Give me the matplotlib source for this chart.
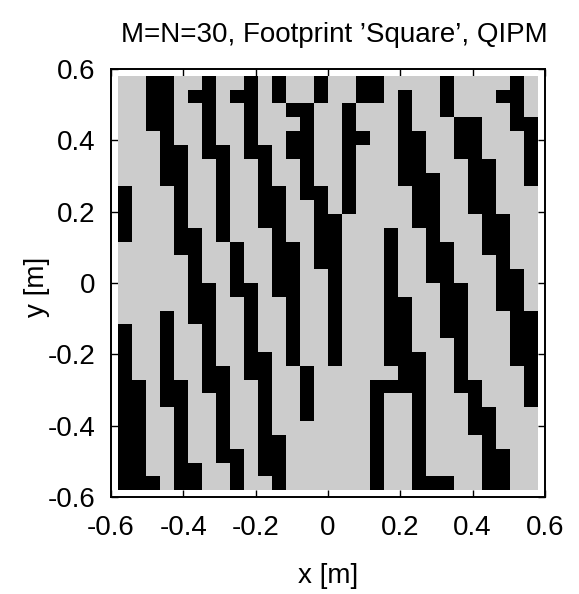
import numpy as np
import matplotlib
matplotlib.use("Agg")
import matplotlib.pyplot as plt
from matplotlib.colors import ListedColormap

plt.rcParams['font.family'] = ['Liberation Sans', 'DejaVu Sans']

# Grid size and extent
M = 30
N = 30
half_width = 0.58

# Black (active) cell columns for each row, row 0 = top (largest y)
black_cols_by_row = [
    [2, 3, 6, 9, 11, 14, 17, 18, 23, 28],
    [2, 3, 5, 6, 8, 9, 11, 14, 17, 18, 20, 23, 27, 28],
    [2, 3, 6, 9, 12, 13, 16, 20, 23, 28],
    [2, 3, 6, 9, 13, 16, 20, 24, 25, 28, 29],
    [3, 6, 9, 12, 13, 16, 17, 20, 21, 24, 25, 29],
    [3, 4, 6, 7, 9, 10, 12, 13, 16, 20, 21, 24, 25, 29],
    [3, 4, 7, 10, 13, 16, 20, 21, 25, 26, 29],
    [3, 4, 7, 10, 13, 16, 20, 21, 22, 25, 26, 29],
    [0, 4, 7, 10, 11, 13, 14, 16, 21, 22, 25, 26],
    [0, 4, 7, 10, 11, 14, 16, 21, 22, 25, 26],
    [0, 4, 7, 10, 11, 14, 15, 21, 22, 26, 27],
    [0, 4, 5, 7, 11, 14, 15, 19, 22, 26, 27],
    [4, 5, 8, 11, 12, 14, 15, 19, 22, 23, 26, 27],
    [5, 8, 11, 12, 14, 15, 19, 22, 23, 27],
    [5, 8, 11, 12, 15, 19, 22, 23, 27, 28],
    [5, 6, 8, 9, 11, 12, 15, 19, 23, 24, 27, 28],
    [5, 6, 9, 12, 15, 19, 20, 23, 24, 27, 28],
    [3, 5, 6, 9, 12, 15, 19, 20, 23, 24, 28, 29],
    [0, 3, 6, 9, 12, 15, 19, 20, 23, 24, 28, 29],
    [0, 3, 6, 9, 12, 15, 19, 20, 24, 28, 29],
    [0, 3, 6, 9, 10, 12, 15, 19, 20, 21, 24, 28, 29],
    [0, 3, 6, 7, 9, 10, 13, 20, 21, 24, 29],
    [0, 1, 3, 4, 6, 7, 10, 13, 18, 19, 20, 21, 24, 25, 29],
    [0, 1, 3, 4, 7, 10, 13, 18, 21, 25, 29],
    [0, 1, 4, 7, 10, 13, 18, 21, 25, 26],
    [0, 1, 4, 7, 10, 18, 21, 25, 26],
    [0, 1, 4, 7, 10, 11, 18, 21, 26],
    [0, 1, 4, 7, 8, 10, 11, 18, 21, 26, 27],
    [0, 1, 4, 5, 8, 10, 11, 18, 21, 26, 27],
    [0, 1, 2, 4, 5, 8, 11, 18, 21, 22, 23, 26, 27],
]

tick_values = [-0.6, -0.4, -0.2, 0, 0.2, 0.4, 0.6]
tick_labels = ['-0.6', '-0.4', '-0.2', '0', '0.2', '0.4', '0.6']

title_text = "M=N=30, Footprint \u2019Square\u2019, QIPM"
xlabel_text = "x [m]"
ylabel_text = "y [m]"

# Build matrix (row 0 of Z = bottom)
Z = np.zeros((N, M))
for r, cols in enumerate(black_cols_by_row):
    for c in cols:
        Z[N - 1 - r, c] = 1

x_edges = np.linspace(-half_width, half_width, M + 1)
y_edges = np.linspace(-half_width, half_width, N + 1)

W, H = 579, 594
fig = plt.figure(figsize=(W / 100, H / 100), dpi=100)
ax = fig.add_axes([111 / W, 1 - 497.3 / H, 434 / W, 428.6 / H])

cmap = ListedColormap(['#cccccc', '#000000'])
ax.pcolormesh(x_edges, y_edges, Z, cmap=cmap, vmin=0, vmax=1, zorder=3)

ax.set_xlim(-0.6, 0.6)
ax.set_ylim(-0.6, 0.6)
ax.set_xticks(tick_values)
ax.set_xticklabels(tick_labels)
ax.set_yticks(tick_values)
ax.set_yticklabels(tick_labels)
ax.tick_params(direction='in', top=True, right=True, length=5, width=1.0,
               labelsize=20, colors='black')
ax.tick_params(axis='x', pad=13)
ax.tick_params(axis='y', pad=11)
for s in ax.spines.values():
    s.set_linewidth(1.4)
    s.set_zorder(5)

fig.text(334 / W, 1 - 35 / H, title_text, ha='center', va='center', fontsize=20)
fig.text(328 / W, 1 - 576 / H, xlabel_text, ha='center', va='center', fontsize=20)
fig.text(37 / W, 1 - 287 / H, ylabel_text, ha='center', va='center', fontsize=20,
         rotation=90)

fig.savefig('out.png', dpi=100)
